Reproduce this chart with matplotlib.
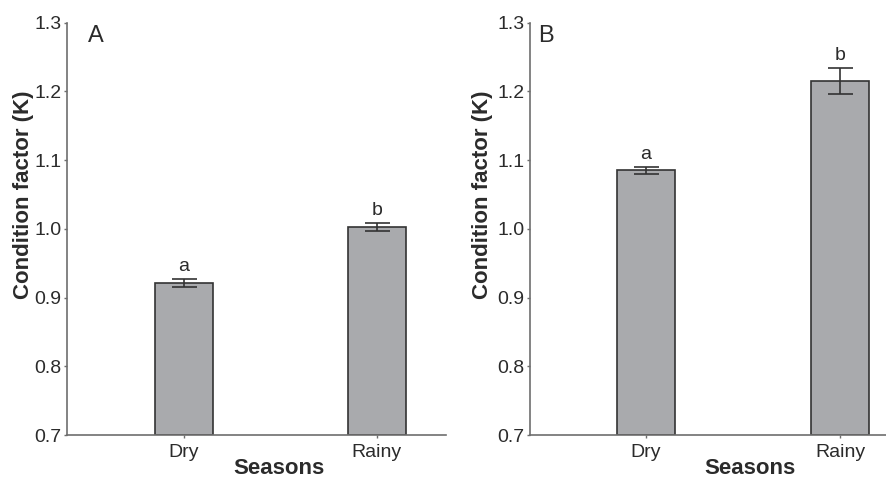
import matplotlib
matplotlib.use("Agg")
from matplotlib import pyplot as plt

plt.rcParams['font.family'] = ['Liberation Sans', 'DejaVu Sans']

seasons = ['Dry', 'Rainy']
k_a = [0.921, 1.003]
err_a = [0.006, 0.006]
k_b = [1.085, 1.215]
err_b = [0.005, 0.019]
letters = ['a', 'b']
yticks = [0.7, 0.8, 0.9, 1.0, 1.1, 1.2, 1.3]

txt = '#2b2b2b'
spine = '#6e6e6e'

fig = plt.figure(figsize=(8.87, 4.82), dpi=100)
ax1 = fig.add_axes([0.0755, 0.0975, 0.4273, 0.8554])
ax2 = fig.add_axes([0.5975, 0.0975, 0.4025, 0.8554])

# axes, values, errors, panel tag, xlim, ylabel x, xlabel x, tag x (figure coords)
panels = [(ax1, k_a, err_a, 'A', (-0.606, 1.358), 0.026, 0.315, 0.099),
          (ax2, k_b, err_b, 'B', (-0.598, 1.242), 0.5445, 0.845, 0.6065)]

for ax, vals, errs, tag, xl, ylx, xlx, tagx in panels:
    x = list(range(len(seasons)))
    ax.bar(x, [v - 0.7 for v in vals], bottom=0.7, width=0.30,
           color='#a9aaad', edgecolor='#333333', linewidth=1.2, zorder=2)
    ax.errorbar(x, vals, yerr=errs, fmt='none', ecolor='#333333',
                elinewidth=1.2, capsize=9, capthick=1.2, zorder=3)
    for xi, v, e, l in zip(x, vals, errs, letters):
        ax.annotate(l, (xi, v + e), xytext=(0, 3), textcoords='offset points',
                    ha='center', va='bottom', fontsize=14, color=txt)
    ax.set_xlim(*xl)
    ax.set_ylim(0.7, 1.3)
    ax.set_yticks(yticks)
    ax.set_yticklabels(['%.1f' % t for t in yticks])
    ax.set_xticks(x)
    ax.set_xticklabels(seasons)
    ax.tick_params(axis='both', colors=spine, labelcolor=txt, labelsize=14,
                   direction='out', length=2.5, width=1)
    ax.tick_params(axis='y', pad=1.5)
    ax.tick_params(axis='x', pad=4)
    for s in ['top', 'right']:
        ax.spines[s].set_visible(False)
    for s in ['left', 'bottom']:
        ax.spines[s].set_color(spine)
        ax.spines[s].set_linewidth(1.2)
    fig.text(ylx, 0.595, 'Condition factor (K)', rotation=90, fontsize=16,
             fontweight='bold', color=txt, ha='center', va='center')
    fig.text(xlx, 0.016, 'Seasons', fontsize=16, fontweight='bold',
             color=txt, ha='center', va='baseline')
    fig.text(tagx, 0.913, tag, fontsize=17, color=txt, ha='left',
             va='baseline')

fig.savefig('out.png', dpi=100)
